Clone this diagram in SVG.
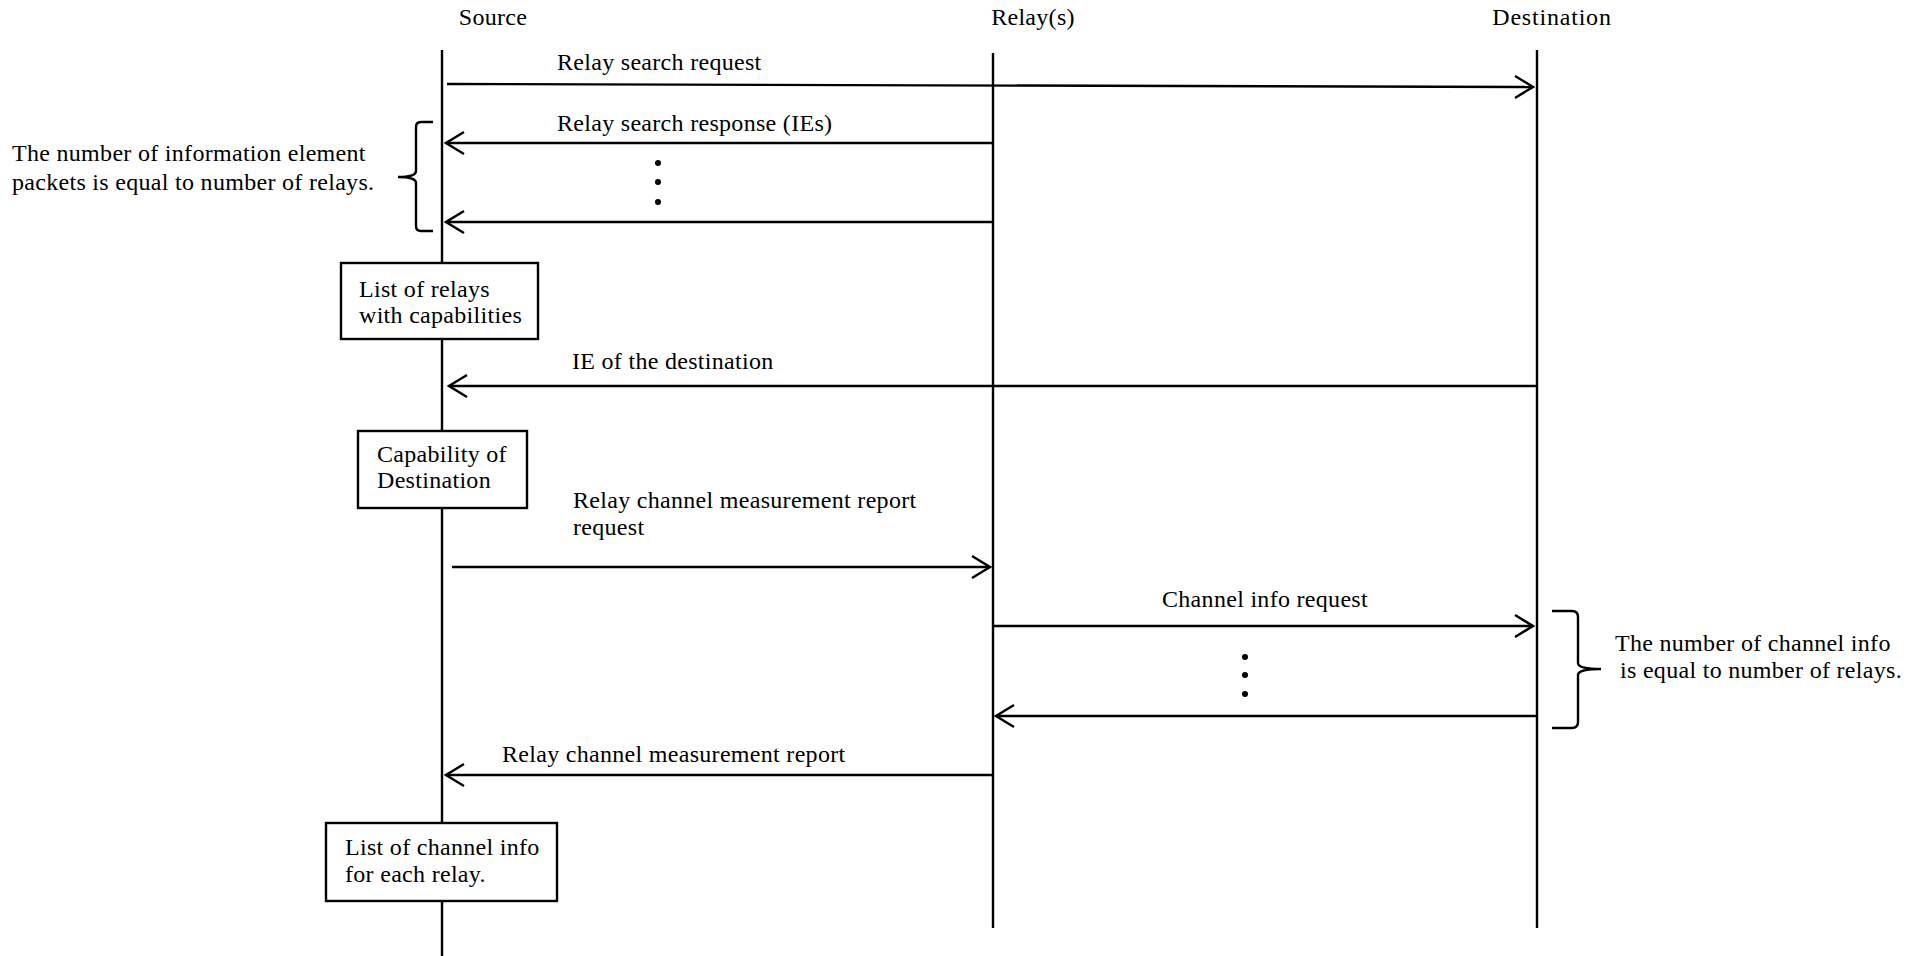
<svg xmlns="http://www.w3.org/2000/svg" width="1907" height="956" viewBox="0 0 1907 956">
<style>
text{font-family:"Liberation Serif","Times New Roman",serif;font-size:24px;fill:#000;letter-spacing:0.3px}
.life{stroke:#000;stroke-width:2.4;fill:none}
.msg{stroke:#000;stroke-width:2.4;fill:none;marker-end:url(#arr)}
.box{fill:#fff;stroke:#000;stroke-width:2.4}
.brace{fill:none;stroke:#000;stroke-width:2.4}
.mid{text-anchor:middle}
</style>
<defs>
<marker id="arr" viewBox="-20 -15 22 30" markerWidth="22" markerHeight="30" refX="0" refY="0" orient="auto" markerUnits="userSpaceOnUse">
<path d="M-18,-11 L0,0 L-18,11" fill="none" stroke="#000" stroke-width="2.4"/>
</marker>
</defs>
<rect width="1907" height="956" fill="#fff"/>
<g id="lifelines">
<g id="source"><text x="493" y="25" class="mid">Source</text><line class="life" x1="442" y1="50" x2="442" y2="956"/></g>
<g id="relay"><text x="1033" y="25" class="mid">Relay(s)</text><line class="life" x1="993" y1="53" x2="993" y2="928"/></g>
<g id="destination"><text x="1552" y="25" class="mid" style="letter-spacing:0.8px">Destination</text><line class="life" x1="1537" y1="50" x2="1537" y2="928"/></g>
</g>
<g id="connectors">
<line class="msg" x1="447" y1="84" x2="1533" y2="87"/>
<line class="msg" x1="993" y1="143" x2="446" y2="143"/>
<line class="msg" x1="993" y1="222" x2="446" y2="222"/>
<line class="msg" x1="1537" y1="386" x2="449" y2="386"/>
<line class="msg" x1="452" y1="567" x2="990" y2="567"/>
<line class="msg" x1="993" y1="626" x2="1533" y2="626"/>
<line class="msg" x1="1537" y1="716" x2="996" y2="716"/>
<line class="msg" x1="993" y1="775" x2="446" y2="775"/>
</g>
<g id="labels">
<text x="557" y="70">Relay search request</text>
<text x="557" y="131">Relay search response (IEs)</text>
<text x="572" y="369">IE of the destination</text>
<text x="573" y="508">Relay channel measurement report</text>
<text x="573" y="535">request</text>
<text x="1265" y="607" class="mid">Channel info request</text>
<text x="502" y="762">Relay channel measurement report</text>
</g>
<g id="dots1" fill="#000">
<circle cx="658" cy="163" r="3"/><circle cx="658" cy="182" r="3"/><circle cx="658" cy="202" r="3"/>
</g>
<g id="dots2" fill="#000">
<circle cx="1245" cy="657" r="3"/><circle cx="1245" cy="675" r="3"/><circle cx="1245" cy="694" r="3"/>
</g>
<g id="brace-left">
<path class="brace" d="M433,122 L421,122 Q416,122 416,127 L416,171 Q416,177 398,177 Q416,177 416,183 L416,226 Q416,231 421,231 L433,231"/>
<text x="12" y="161">The number of information element</text>
<text x="12" y="190">packets is equal to number of relays.</text>
</g>
<g id="brace-right">
<path class="brace" d="M1552,611 L1572,611 Q1578,611 1578,617 L1578,663 Q1578,669 1601,669 Q1578,669 1578,675 L1578,722 Q1578,728 1572,728 L1552,728"/>
<text x="1615" y="651">The number of channel info</text>
<text x="1620" y="678">is equal to number of relays.</text>
</g>
<g id="box-relays">
<rect class="box" x="341" y="263" width="197" height="76"/>
<text x="359" y="297">List of relays</text>
<text x="359" y="323">with capabilities</text>
</g>
<g id="box-capability">
<rect class="box" x="358" y="431" width="169" height="77"/>
<text x="377" y="462">Capability of</text>
<text x="377" y="488">Destination</text>
</g>
<g id="box-channel">
<rect class="box" x="326" y="823" width="231" height="78"/>
<text x="345" y="855">List of channel info</text>
<text x="345" y="882">for each relay.</text>
</g>
</svg>
